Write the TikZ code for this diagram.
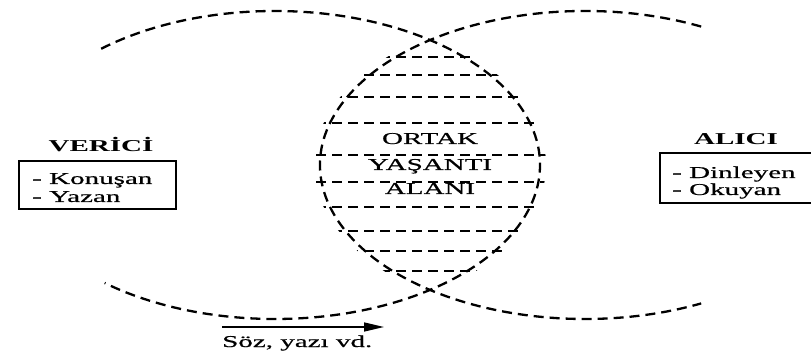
\documentclass[tikz,border=0pt]{standalone}
\usepackage{fontspec}
\setmainfont{Liberation Serif}[FakeStretch=1.75]
\newfontfamily\heavy{Liberation Serif}[FakeStretch=1.75, FakeBold=0.6]
\usetikzlibrary{arrows.meta}
\begin{document}
\begin{tikzpicture}[x=1pt,y=1pt,
  dsh/.style={line width=2.3pt, dash pattern=on 10pt off 6pt},
  lbl/.style={font=\heavy\fontsize{16.6}{18}\selectfont, inner sep=0pt},
  ttl/.style={font=\fontsize{16.6}{18}\selectfont\bfseries, inner sep=0pt},
  boxst/.style={draw, line width=1.6pt}]
\useasboundingbox (0,0) rectangle (811,356);
% two overlapping fields
\draw[dsh] (275,191) ++(131:265 and 154) arc[start angle=131, end angle=-130, x radius=265, y radius=154];
\draw[dsh] (585,191) ++(64:265 and 154) arc[start angle=64, end angle=296, x radius=265, y radius=154];
% hatching of the common field
\begin{scope}
\clip (275,191) ellipse [x radius=271, y radius=158];
\clip (585,191) ellipse [x radius=271, y radius=158];
\foreach \yy in {299,281,259,233,201,174,149,125,105,85}
  \draw[dsh] (300,\yy) -- (560,\yy);
\end{scope}
\node[lbl, anchor=base] (o1) at (430,212) {ORTAK};
\node[lbl, anchor=base] (o2) at (430,186) {YAŞANTI};
\node[lbl, anchor=base] (o3) at (430,162) {ALANI};
% sender
\node[ttl, anchor=base] (ver) at (101,204) {VERİCİ};
\draw[boxst] (19,147) rectangle (176,195);
\node[lbl, anchor=base west] (v1) at (32,172) {- Konuşan};
\node[lbl, anchor=base west] (v2) at (32,154) {- Yazan};
% receiver
\node[ttl, anchor=base] (alc) at (736,211) {ALICI};
\draw[boxst] (660,153) rectangle (816,203);
\node[lbl, anchor=base west] (a1) at (672,178) {- Dinleyen};
\node[lbl, anchor=base west] (a2) at (672,161) {- Okuyan};
% message arrow
\coordinate (p1) at (222,29);
\coordinate (p2) at (384,29);
\draw[line width=1.5pt, -{Triangle[length=20pt,width=9pt]}] (p1) -- (p2);
\node[lbl, anchor=base west] (soz) at (222,9) {Söz, yazı vd.};
\end{tikzpicture}
\end{document}
